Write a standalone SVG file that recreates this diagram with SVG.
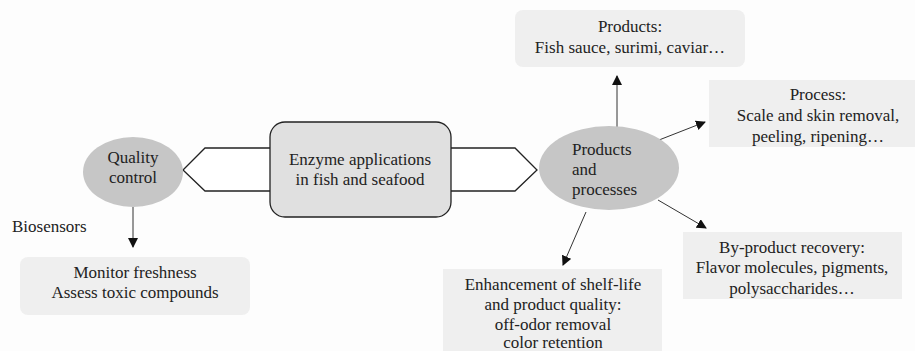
<svg xmlns="http://www.w3.org/2000/svg" width="915" height="351" viewBox="0 0 915 351">
<style>
.t{font-family:'Liberation Serif','Times New Roman',serif;font-size:17px;fill:#222}
.c{text-anchor:middle}
.ell{fill:#c6c6c6;stroke:none}
.box{fill:#efefef;stroke:none}
.arr{fill:#fff;stroke:#222;stroke-width:1.3}
.ln{stroke:#333;stroke-width:1;fill:none;marker-end:url(#ah)}
</style>
<defs>
<marker id="ah" markerWidth="10" markerHeight="10" refX="9" refY="5" orient="auto" markerUnits="userSpaceOnUse">
<path d="M0,0 L10,5 L0,10 Z" fill="#111"/>
</marker>
</defs>
<rect width="915" height="351" fill="#fdfdfd"/>
<g id="connectors">
<path class="arr" d="M270,148 L205,148 L183,170 L205,191 L270,191"/>
<path class="arr" d="M451,148 L515,148 L537,170 L515,191 L451,191"/>
<line class="ln" x1="133" y1="207" x2="133" y2="247"/>
<line class="ln" x1="617" y1="133" x2="617" y2="76"/>
<line class="ln" x1="659" y1="140" x2="705" y2="122"/>
<line class="ln" x1="658" y1="200" x2="706" y2="228"/>
<line class="ln" x1="586" y1="212" x2="563" y2="265"/>
</g>
<g id="enzyme">
<rect x="270" y="122" width="181" height="95" rx="15" fill="#e0e0e0" stroke="#222" stroke-width="1.3"/>
<text class="t c" x="360" y="165">Enzyme applications</text>
<text class="t c" x="360" y="185">in fish and seafood</text>
</g>
<g id="quality">
<ellipse class="ell" cx="133" cy="172" rx="50" ry="35"/>
<text class="t c" x="133" y="163">Quality</text>
<text class="t c" x="133" y="183">control</text>
</g>
<g id="biosensors">
<text class="t" x="12" y="232">Biosensors</text>
</g>
<g id="monitor">
<rect class="box" x="20" y="257" width="230" height="58" rx="8"/>
<text class="t c" x="135" y="278">Monitor freshness</text>
<text class="t c" x="135" y="298">Assess toxic compounds</text>
</g>
<g id="pp">
<ellipse class="ell" cx="609" cy="168" rx="70" ry="42"/>
<text class="t" x="572" y="155">Products</text>
<text class="t" x="572" y="175">and</text>
<text class="t" x="572" y="195">processes</text>
</g>
<g id="products">
<rect class="box" x="515" y="10" width="230" height="57" rx="8"/>
<text class="t c" x="630" y="32">Products:</text>
<text class="t c" x="630" y="53">Fish sauce, surimi, caviar…</text>
</g>
<g id="process">
<rect class="box" x="709" y="80" width="206" height="67"/>
<text class="t c" x="818" y="100">Process:</text>
<text class="t c" x="818" y="121">Scale and skin removal,</text>
<text class="t c" x="818" y="142">peeling, ripening…</text>
</g>
<g id="byproduct">
<rect class="box" x="683" y="232" width="219" height="67"/>
<text class="t c" x="792" y="253">By-product recovery:</text>
<text class="t c" x="792" y="273">Flavor molecules, pigments,</text>
<text class="t c" x="792" y="294">polysaccharides…</text>
</g>
<g id="enhancement">
<rect class="box" x="443" y="269" width="219" height="90"/>
<text class="t c" x="553" y="290">Enhancement of shelf-life</text>
<text class="t c" x="553" y="310">and product quality:</text>
<text class="t c" x="553" y="330">off-odor removal</text>
<text class="t c" x="553" y="348">color retention</text>
</g>
</svg>
